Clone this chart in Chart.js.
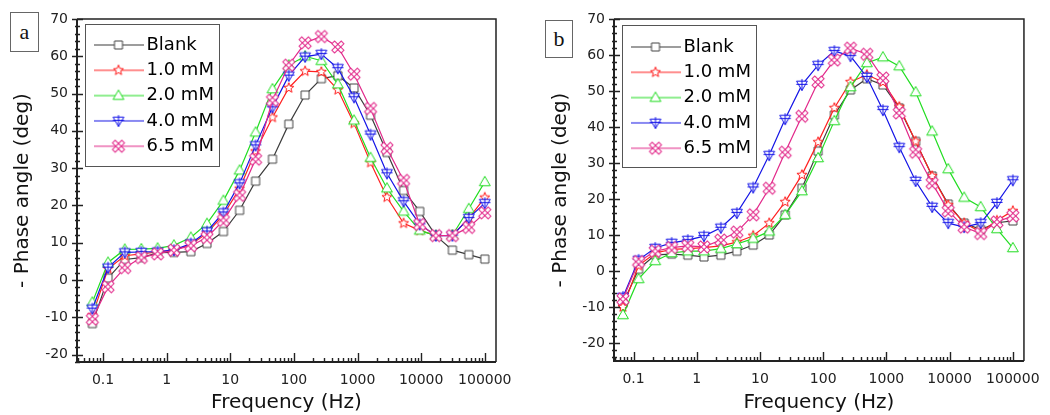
<!DOCTYPE html>
<html>
<head>
<meta charset="utf-8">
<script src="https://cdn.jsdelivr.net/npm/chart.js@4.4.1/dist/chart.umd.min.js"></script>
<style>
  html, body { margin: 0; padding: 0; background: #fff; }
  #wrap { position: relative; width: 1050px; height: 415px; overflow: hidden; }
  canvas { position: absolute; top: 0; }
  #chartA { left: 0; }
  #chartB { left: 525px; }
  .tag {
    position: absolute; box-sizing: border-box; border: 1px solid #666; background: #fff;
    font-family: "Liberation Serif", "Times New Roman", serif; font-size: 22px; color: #111;
    display: flex; align-items: center; justify-content: center;
  }
</style>
</head>
<body>
<div id="wrap">
  <canvas id="chartA" width="525" height="415"></canvas>
  <canvas id="chartB" width="525" height="415"></canvas>
  <div class="tag" style="left:10px;top:12px;width:29px;height:40px;">a</div>
  <div class="tag" style="left:545px;top:20px;width:28px;height:38px;">b</div>
</div>
<script>
// Measurement frequencies (Hz)
const frequencies = [0.068, 0.12, 0.22, 0.4, 0.72, 1.3, 2.4, 4.3, 7.8, 14, 25, 46, 83, 150, 270,
  490, 880, 1600, 2900, 5300, 9500, 17000, 31000, 56000, 100000];

const seriesNames = ['Blank', '1.0 mM', '2.0 mM', '4.0 mM', '6.5 mM'];

// Panel a: - phase angle (deg)
const blankA = [-11.7, 0.5, 5.5, 6.0, 7.3, 7.4, 7.6, 9.8, 13.0, 18.7, 26.5, 32.4, 41.8, 49.6, 54.0,
  54.8, 51.5, 44.2, 34.2, 24.0, 18.4, 11.9, 8.0, 6.8, 5.6];
const mM10A = [-9.5, 3.0, 6.5, 7.0, 7.5, 8.0, 9.5, 12.5, 17.5, 24.5, 34.5, 43.6, 51.5, 56.0, 55.8,
  51.0, 42.0, 31.5, 22.2, 15.2, 13.3, 11.9, 12.0, 16.5, 22.1];
const mM20A = [-6.0, 4.7, 8.2, 8.3, 8.5, 9.3, 11.4, 15.1, 21.3, 29.4, 39.6, 51.2, 57.6, 60.0, 58.8,
  52.5, 42.8, 32.8, 24.6, 18.4, 13.3, 11.9, 12.0, 19.1, 26.3];
const mM40A = [-7.7, 3.3, 7.4, 7.5, 7.6, 8.0, 9.8, 13.0, 18.1, 25.9, 36.1, 46.3, 54.8, 59.9, 60.6,
  56.8, 49.0, 39.0, 28.6, 21.1, 14.9, 11.9, 11.9, 16.6, 20.6];
const mM65A = [-10.5, -1.8, 3.3, 6.0, 7.0, 8.0, 9.2, 11.4, 16.0, 22.7, 32.4, 48.2, 57.6, 63.6, 65.3,
  62.5, 55.2, 46.0, 35.3, 26.7, 14.9, 11.9, 11.9, 14.1, 18.0];

// Panel b: - phase angle (deg)
const blankB = [-9.0, 0.5, 4.5, 4.7, 4.4, 3.9, 4.4, 5.5, 7.2, 10.0, 15.6, 23.0, 33.3, 43.3, 50.3,
  53.4, 51.7, 45.3, 36.0, 26.4, 18.6, 13.3, 11.5, 13.4, 13.9];
const mM10B = [-10.0, 1.5, 5.0, 6.0, 6.2, 6.5, 7.0, 8.0, 9.8, 13.3, 19.2, 26.7, 35.8, 45.3, 52.5,
  54.5, 52.5, 45.6, 36.0, 26.4, 18.3, 13.3, 10.8, 14.0, 16.7];
const mM20B = [-12.2, -2.2, 2.8, 5.0, 5.5, 5.5, 6.2, 7.5, 9.0, 11.0, 15.6, 22.2, 31.4, 41.7, 51.1,
  57.8, 59.4, 56.9, 49.7, 38.8, 28.3, 20.4, 17.8, 11.7, 6.4];
const mM40B = [-7.2, 3.1, 6.4, 7.8, 8.6, 9.7, 12.0, 16.1, 23.2, 32.2, 42.2, 51.7, 57.2, 61.1, 59.7,
  53.9, 44.7, 34.4, 25.0, 17.8, 13.3, 12.2, 13.3, 18.9, 25.2];
const mM65B = [-7.8, 2.6, 5.5, 6.5, 7.0, 6.7, 8.6, 10.8, 15.6, 23.0, 33.0, 43.0, 52.5, 58.6, 61.9,
  60.2, 53.6, 43.9, 33.0, 24.4, 16.7, 12.2, 10.4, 13.6, 15.3];

// Axis tick labels
const xTickValues = [0.1, 1, 10, 100, 1000, 10000, 100000];
const xTickLabels = ['0.1', '1', '10', '100', '1000', '10000', '100000'];
const yTickValues = [-20, -10, 0, 10, 20, 30, 40, 50, 60, 70];

// Styling
const lineColors = ['#3c3c3c', '#ff2020', '#22dd22', '#1414e6', '#e2288a'];
const markerColors = ['#444444', '#ff1a1a', '#1fdc1f', '#1010e8', '#e2288a'];
const markerKinds = ['square', 'star', 'triangle', 'downPlus', 'hatchX'];
const SANS = '"DejaVu Sans", "Liberation Sans", Arial, sans-serif';

function drawMarker(ctx, kind, color, cx, cy) {
  ctx.save();
  ctx.translate(cx, cy);
  ctx.lineWidth = 1;
  ctx.strokeStyle = color;
  ctx.fillStyle = '#fff';
  ctx.beginPath();
  if (kind === 'square') {
    ctx.rect(-4, -4, 8, 8);
    ctx.fill(); ctx.stroke();
  } else if (kind === 'star') {
    for (let i = 0; i < 10; i++) {
      const r = i % 2 ? 2.3 : 5.3;
      const a = -Math.PI / 2 + i * Math.PI / 5;
      ctx.lineTo(r * Math.cos(a), r * Math.sin(a));
    }
    ctx.closePath(); ctx.fill(); ctx.stroke();
  } else if (kind === 'triangle') {
    ctx.moveTo(0, -5.6); ctx.lineTo(5.4, 3.8); ctx.lineTo(-5.4, 3.8); ctx.closePath();
    ctx.fill(); ctx.stroke();
  } else if (kind === 'downPlus') {
    ctx.moveTo(-5.4, -3.8); ctx.lineTo(5.4, -3.8); ctx.lineTo(0, 5.6); ctx.closePath();
    ctx.fill(); ctx.stroke();
    ctx.beginPath();
    ctx.moveTo(0, -5.8); ctx.lineTo(0, 5.6);
    ctx.moveTo(-5.6, -0.6); ctx.lineTo(5.6, -0.6);
    ctx.stroke();
  } else if (kind === 'hatchX') {
    const bands = [Math.PI / 4, -Math.PI / 4];
    bands.forEach(a => { ctx.save(); ctx.rotate(a); ctx.beginPath(); ctx.rect(-6.6, -1.9, 13.2, 3.8); ctx.fill(); ctx.restore(); });
    bands.forEach(a => { ctx.save(); ctx.rotate(a); ctx.beginPath(); ctx.rect(-6.6, -1.9, 13.2, 3.8); ctx.stroke(); ctx.restore(); });
  }
  ctx.restore();
}

function markerImage(i) {
  const c = document.createElement('canvas');
  c.width = 16; c.height = 16;
  drawMarker(c.getContext('2d'), markerKinds[i], markerColors[i], 8, 8);
  return c;
}

function legendIcon(i) {
  const c = document.createElement('canvas');
  c.width = 50; c.height = 16;
  const ctx = c.getContext('2d');
  ctx.strokeStyle = lineColors[i];
  ctx.lineWidth = 1.2;
  ctx.beginPath(); ctx.moveTo(0, 8); ctx.lineTo(50, 8); ctx.stroke();
  drawMarker(ctx, markerKinds[i], markerColors[i], 25, 8);
  return c;
}

const pointImages = seriesNames.map((_, i) => markerImage(i));
const legendImages = seriesNames.map((_, i) => legendIcon(i));

// Frame around the plot plus inward/outward tick marks on the two axes
const frameAndTicks = {
  id: 'frameAndTicks',
  afterDatasetsDraw(chart) {
    const { ctx, chartArea: a, scales: { x, y } } = chart;
    ctx.save();
    ctx.strokeStyle = '#222';
    ctx.lineWidth = 1.5;
    ctx.beginPath();
    ctx.moveTo(a.left, a.top); ctx.lineTo(a.right, a.top); ctx.lineTo(a.right, a.bottom);
    ctx.stroke();
    ctx.lineWidth = 2;
    ctx.beginPath();
    ctx.moveTo(a.left, a.top); ctx.lineTo(a.left, a.bottom); ctx.lineTo(a.right, a.bottom);
    ctx.stroke();

    ctx.lineWidth = 1.4;
    ctx.beginPath();
    for (let v = Math.ceil(y.min / 2) * 2; v <= y.max + 1e-9; v += 2) {
      const py = Math.round(y.getPixelForValue(v)) + 0.5;
      const major = v % 10 === 0;
      ctx.moveTo(a.left - (major ? 5 : 2), py);
      ctx.lineTo(a.left + (major ? 6 : 3), py);
    }
    for (let k = -2; k <= 5; k++) {
      for (let m = 1; m <= 9; m++) {
        const v = m * Math.pow(10, k);
        if (v < x.min || v > x.max) continue;
        const px = Math.round(x.getPixelForValue(v)) + 0.5;
        const major = m === 1;
        ctx.moveTo(px, a.bottom + 1);
        ctx.lineTo(px, a.bottom - (major ? 9 : 4));
      }
    }
    ctx.stroke();
    ctx.restore();
  }
};

// Places the legend inside the plot and draws its border
const legendInside = {
  id: 'legendInside',
  afterLayout(chart, args, opts) {
    const lg = chart.legend;
    if (!lg) return;
    lg.left = chart.chartArea.left + opts.dx;
    lg.top = chart.chartArea.top + opts.dy;
  },
  beforeDatasetsDraw(chart, args, opts) {
    const { ctx, chartArea: a } = chart;
    ctx.save();
    ctx.fillStyle = '#fff';
    ctx.strokeStyle = '#555';
    ctx.lineWidth = 1;
    ctx.strokeRect(Math.round(a.left + opts.boxDx) + 0.5, Math.round(a.top + opts.boxDy) + 0.5, opts.boxW, opts.boxH);
    ctx.restore();
  }
};

function buildChart(canvasId, series, yMin, dims) {
  return new Chart(document.getElementById(canvasId), {
    type: 'line',
    data: {
      datasets: series.map((vals, i) => ({
        label: seriesNames[i],
        data: frequencies.map((f, j) => ({ x: f, y: vals[j] })),
        borderColor: lineColors[i],
        backgroundColor: lineColors[i],
        borderWidth: 1.2,
        pointStyle: pointImages[i],
        pointRadius: 5,
        pointHoverRadius: 5,
        tension: 0,
        fill: false,
        order: series.length - i
      }))
    },
    plugins: [frameAndTicks, legendInside],
    options: {
      responsive: false,
      animation: false,
      events: [],
      layout: { padding: { left: 0, top: 19, right: dims.padRight, bottom: 0 } },
      scales: {
        x: {
          type: 'logarithmic',
          min: dims.xMin,
          max: 150000,
          afterBuildTicks: s => { s.ticks = xTickValues.map(v => ({ value: v })); },
          afterFit: s => { s.height = dims.xAxisH; },
          ticks: {
            callback: (v, idx) => xTickLabels[idx],
            font: { family: SANS, size: 14 },
            color: '#222',
            padding: 10,
            maxRotation: 0,
            autoSkip: false
          },
          grid: { display: false, drawTicks: false },
          border: { display: false },
          title: {
            display: true,
            text: 'Frequency (Hz)',
            font: { family: SANS, size: 20 },
            color: '#111',
            padding: { top: 0, bottom: 0 }
          }
        },
        y: {
          type: 'linear',
          min: yMin,
          max: 70,
          afterBuildTicks: s => { s.ticks = yTickValues.map(v => ({ value: v })); },
          afterFit: s => { s.width = dims.yAxisW; },
          ticks: {
            callback: v => String(v),
            font: { family: SANS, size: 14 },
            color: '#222',
            padding: 9
          },
          grid: { display: false, drawTicks: false },
          border: { display: false },
          title: {
            display: true,
            text: '- Phase angle (deg)',
            font: { family: SANS, size: 20 },
            color: '#111',
            padding: { top: dims.yTitlePad, bottom: 0 }
          }
        }
      },
      plugins: {
        tooltip: { enabled: false },
        legend: {
          position: 'chartArea',
          align: 'start',
          labels: {
            usePointStyle: true,
            pointStyleWidth: 38,
            padding: 7.3,
            font: { family: SANS, size: 18 },
            color: '#111',
            generateLabels: () => seriesNames.map((name, i) => ({
              text: name,
              pointStyle: legendImages[i],
              fillStyle: 'rgba(0,0,0,0)',
              strokeStyle: 'rgba(0,0,0,0)',
              lineWidth: 0,
              hidden: false,
              datasetIndex: i
            }))
          }
        },
        legendInside: dims.legend
      }
    }
  });
}

buildChart('chartA', [blankA, mM10A, mM20A, mM40A, mM65A], -22, {
  padRight: 29, xAxisH: 53, yAxisW: 77, yTitlePad: 11, xMin: 0.039,
  legend: { dx: 15.2, dy: 9.7, boxDx: 8, boxDy: 5, boxW: 134, boxH: 142 }
});

buildChart('chartB', [blankB, mM10B, mM20B, mM40B, mM65B], -25, {
  padRight: 17, xAxisH: 54, yAxisW: 89, yTitlePad: 23.5, xMin: 0.049,
  legend: { dx: 15.2, dy: 11.7, boxDx: 8, boxDy: 6, boxW: 134, boxH: 142 }
});
</script>
</body>
</html>
